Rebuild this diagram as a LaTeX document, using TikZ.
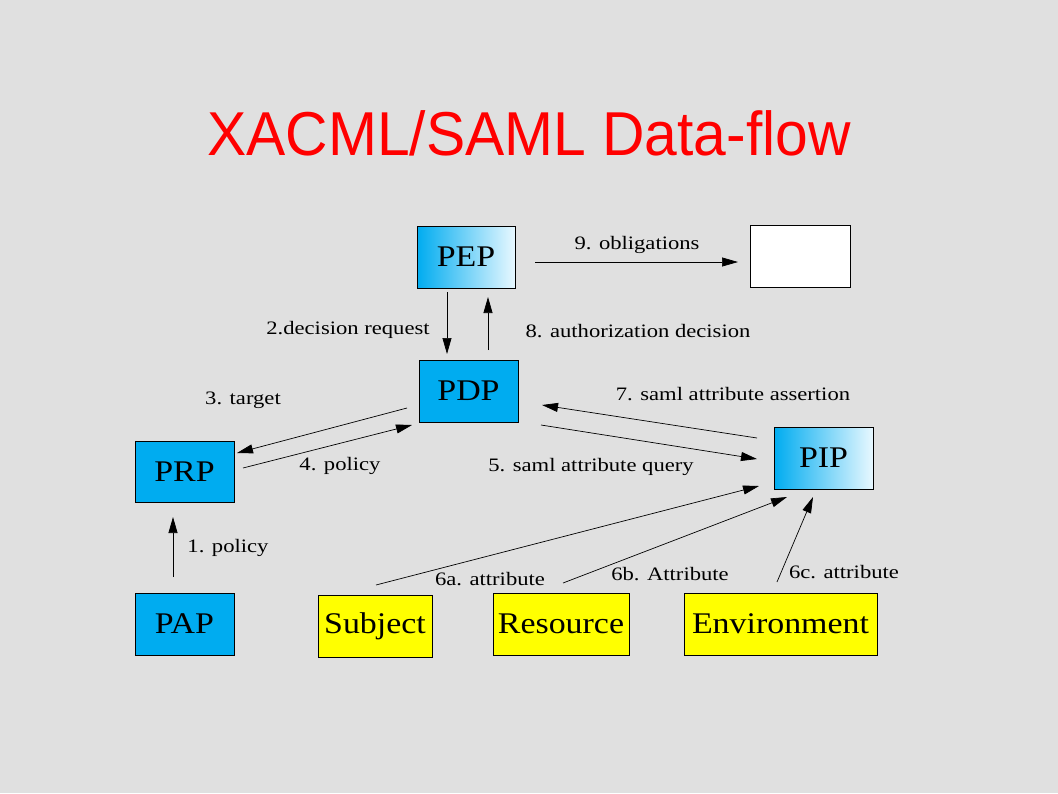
\documentclass[tikz,border=0pt]{standalone}
\usepackage{fontspec}
\setmainfont{Liberation Serif}
\newfontfamily\titlefont{Liberation Sans}
\usetikzlibrary{calc,arrows.meta}
\definecolor{bg}{RGB}{224,224,224}
\definecolor{boxblue}{RGB}{0,172,240}
\definecolor{boxlight}{RGB}{232,248,255}
\definecolor{boxyellow}{RGB}{255,255,0}
\tikzset{
  box/.style={draw=black,line width=0.8pt,inner sep=0pt,minimum height=62pt},
  boxtext/.style={font=\fontsize{30}{33}\selectfont},
  solidbox/.style={box,fill=boxblue},
  gradbox/.style={box,left color=boxblue,right color=boxlight},
  ybox/.style={box,fill=boxyellow},
  wbox/.style={box,fill=white},
  lbl/.style={inner sep=0pt,font=\fontsize{19}{21}\selectfont,xscale=1.19},
  arr/.style={line width=0.7pt,-{Triangle[length=16pt,width=9pt]}},
}
\newcommand{\bt}[1]{\scalebox{1.13}[1]{\fontsize{30}{33}\selectfont #1}}
\newcommand{\lt}[1]{\scalebox{1.19}[1]{\fontsize{19}{21}\selectfont #1}}
\begin{document}
\begin{tikzpicture}[x=1pt,y=-1pt]
\fill[bg] (0,0) rectangle (1058,793);
\useasboundingbox (0,0) rectangle (1058,793);
\node[text=red,inner sep=0pt] (title) at (529,133) {\scalebox{0.948}[1]{\titlefont\fontsize{62}{66}\selectfont XACML/SAML Data-flow}};
% boxes
\node[gradbox,minimum width=98pt] (pep) at (466,257) {\bt{PEP}};
\node[wbox,minimum width=100pt] (obl) at (800,256) {};
\node[solidbox,minimum width=99pt] (pdp) at (468.5,391) {\bt{PDP}};
\node[solidbox,minimum width=99pt,minimum height=61pt] (prp) at (184.5,471.5) {\bt{PRP}};
\node[gradbox,minimum width=99pt] (pip) at (823.5,458) {\bt{PIP}};
\node[solidbox,minimum width=99pt] (pap) at (184.5,624) {\bt{PAP}};
\node[ybox,minimum width=114pt] (subj) at (375,626) {\bt{Subject}};
\node[ybox,minimum width=136pt] (res) at (561,624) {\bt{Resource}};
\node[ybox,minimum width=193pt] (env) at (780.5,624) {\bt{Environment}};
% connectors
\draw[arr] ($(pep.center)+(-19,35)$) -- ($(pdp.center)+(-21.5,-37)$);
\draw[arr] ($(pdp.center)+(19.5,-41)$) -- ($(pep.center)+(22,40)$);
\draw[arr] ($(pep.center)+(69,5)$) -- ($(obl.center)+(-62,6)$);
\draw[arr] ($(pdp.center)+(-61.5,17)$) -- ($(prp.center)+(52.5,-18.5)$);
\draw[arr] ($(prp.center)+(58.5,-3.5)$) -- ($(pdp.center)+(-56.5,34)$);
\draw[arr] ($(pip.center)+(-66.5,-20)$) -- ($(pdp.center)+(73.5,14)$);
\draw[arr] ($(pdp.center)+(72.5,34)$) -- ($(pip.center)+(-66.5,1)$);
\draw[arr] ($(subj.center)+(1,-41)$) -- ($(pip.center)+(-64.5,28)$);
\draw[arr] ($(res.center)+(2,-41)$) -- ($(pip.center)+(-36.5,39)$);
\draw[arr] ($(env.center)+(-3.5,-42)$) -- ($(pip.center)+(-10.5,39)$);
\draw[arr] ($(pap.center)+(-11.5,-47)$) -- ($(prp.center)+(-11.5,45.5)$);
% labels
\node[inner sep=0pt] (l9) at (637,245) {\lt{9. obligations}};
\node[inner sep=0pt] (l2) at (348,330) {\lt{2.decision request}};
\node[inner sep=0pt] (l8) at (638,331) {\lt{8. authorization decision}};
\node[inner sep=0pt] (l3) at (243,400) {\lt{3. target}};
\node[inner sep=0pt] (l4) at (340,466) {\lt{4. policy}};
\node[inner sep=0pt] (l5) at (591,467) {\lt{5. saml attribute query}};
\node[inner sep=0pt] (l7) at (733,394) {\lt{7. saml attribute assertion}};
\node[inner sep=0pt] (l1) at (228,548) {\lt{1. policy}};
\node[inner sep=0pt] (l6a) at (490,579) {\lt{6a. attribute}};
\node[inner sep=0pt] (l6b) at (670,574) {\lt{6b. Attribute}};
\node[inner sep=0pt] (l6c) at (844,572) {\lt{6c. attribute}};
\end{tikzpicture}
\end{document}
